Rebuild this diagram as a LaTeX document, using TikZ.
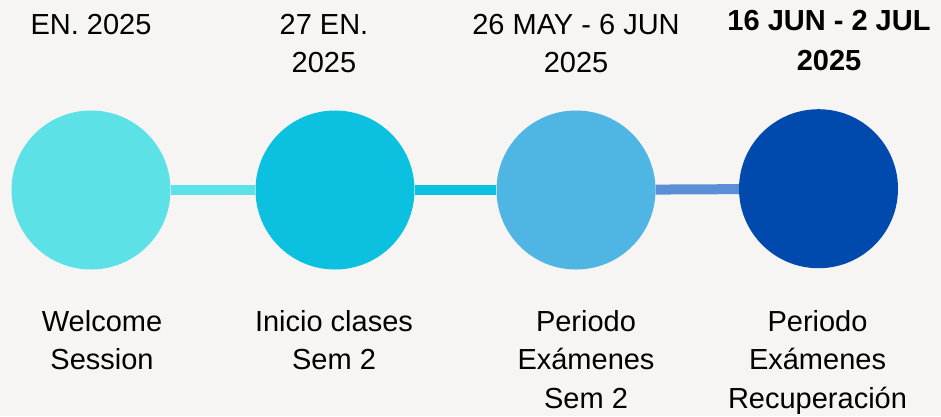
\documentclass[tikz,border=0pt]{standalone}
\usepackage{fontspec}
\setmainfont{Liberation Sans}
\usetikzlibrary{positioning}
\definecolor{bgpaper}{HTML}{F6F5F4}
\definecolor{stageA}{HTML}{5CE1E6}
\definecolor{stageB}{HTML}{0CC0DF}
\definecolor{stageC}{HTML}{4FB5E3}
\definecolor{stageD}{HTML}{004AAD}
\definecolor{linkC}{HTML}{5A8FD5}

\begin{document}
\begin{tikzpicture}[x=1pt,y=-1pt]
\tikzset{
  stagenode/.style={circle,fill=#1,draw=none,minimum size=159pt,inner sep=0pt},
  stageedge/.style={draw=#1,line width=10pt},
  datelabel/.style={anchor=north,inner sep=0pt,align=center,font=\fontsize{29}{38.5}\selectfont},
  eventlabel/.style={anchor=north,inner sep=0pt,align=center,font=\fontsize{29}{38.5}\selectfont}
}
\fill[bgpaper] (0,0) rectangle (941,416);
\useasboundingbox (0,0) rectangle (941,416);
\node[stagenode=stageA] (n_s1) at (91,190) {};
\node[stagenode=stageB] (n_s2) at (335,190) {};
\node[stagenode=stageC] (n_s3) at (576,190) {};
\node[stagenode=stageD] (n_s4) at (818.5,188.7) {};
\draw[stageedge=stageA] (n_s1) -- (n_s2);
\draw[stageedge=stageB] (n_s2) -- (n_s3);
\draw[stageedge=linkC] (n_s3) -- (n_s4);
\node[datelabel] (n_d1) at (91,14) {EN. 2025};
\node[datelabel] (n_d2) at (324,14) {27 EN.\\2025};
\node[datelabel] (n_d3) at (576,14) {26 MAY - 6 JUN\\2025};
\node[datelabel,font=\fontsize{29}{40}\selectfont\bfseries] (n_d4) at (829,10) {16 JUN - 2 JUL\\2025};
\node[eventlabel] (n_e1) at (102,310) {Welcome\\Session};
\node[eventlabel] (n_e2) at (334,310) {Inicio clases\\Sem 2};
\node[eventlabel] (n_e3) at (586,310) {Periodo\\Exámenes\\Sem 2};
\node[eventlabel] (n_e4) at (817.5,310) {Periodo\\Exámenes\\Recuperación};
\end{tikzpicture}
\end{document}
